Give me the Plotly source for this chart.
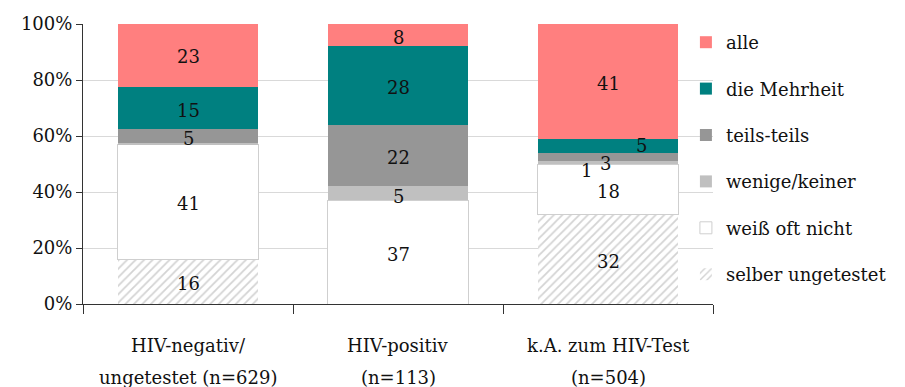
import plotly.graph_objects as go

# Categories (two-line labels) and answer shares in percent
cat_line1 = ["HIV-negativ/", "HIV-positiv", "k.A. zum HIV-Test"]
cat_line2 = ["ungetestet (n=629)", "(n=113)", "(n=504)"]
categories = [a + " " + b for a, b in zip(cat_line1, cat_line2)]

# Stacked from bottom to top
series_names = ["selber ungetestet", "weiß oft nicht", "wenige/keiner",
                "teils-teils", "die Mehrheit", "alle"]
selber_ungetestet = [16, 0, 32]
weiss_oft_nicht = [41, 37, 18]
wenige_keiner = [0.5, 5, 1]
teils_teils = [5, 22, 3]
die_mehrheit = [15, 28, 5]
alle = [23, 8, 41]
series_values = [selber_ungetestet, weiss_oft_nicht, wenige_keiner,
                 teils_teils, die_mehrheit, alle]

y_ticks = [0, 20, 40, 60, 80, 100]

FONT = "DejaVu Serif"
FS = 18

colors = ["#ffffff", "#ffffff", "#c0c0c0", "#969696", "#008080", "#ff7f7f"]

fig = go.Figure()
n = len(series_names)
for i, (name, vals) in enumerate(zip(series_names, series_values)):
    marker = dict(color=colors[i], line=dict(width=0))
    if name == "selber ungetestet":
        marker["pattern"] = dict(shape="/", fgcolor="#a8a8a8", bgcolor="#ffffff",
                                 size=6, solidity=0.3)
    if name == "weiß oft nicht":
        marker["line"] = dict(color="#cfcfcf", width=1)
    fig.add_trace(go.Bar(
        x=categories, y=vals, name=name, marker=marker,
        legendgroup=name, legendrank=n - i, hoverinfo="skip",
    ))

# Value labels centred in each segment (small ones nudged aside)
nudge = {
    ("die Mehrheit", 2): (33, 0),
    ("teils-teils", 2): (-3, -6),
    ("wenige/keiner", 2): (-22, -8),
    ("teils-teils", 0): (0, -2),
    ("wenige/keiner", 1): (0, -3),
}
annotations = []
for ci, cat in enumerate(categories):
    base = 0
    for si, (name, vals) in enumerate(zip(series_names, series_values)):
        v = vals[ci]
        if v >= 1:
            dx, dy = nudge.get((name, ci), (0, -2))
            annotations.append(dict(
                x=cat, y=base + v / 2, xref="x", yref="y", text=str(v),
                showarrow=False, xshift=dx, yshift=dy,
                font=dict(family=FONT, size=FS, color="#111111"),
            ))
        base += v

# Two-line category labels below the axis
for cat, l1, l2 in zip(categories, cat_line1, cat_line2):
    annotations.append(dict(x=cat, y=-0.147, xref="x", yref="paper", text=l1,
                            showarrow=False, yanchor="middle",
                            font=dict(family=FONT, size=FS, color="#111111")))
    annotations.append(dict(x=cat, y=-0.262, xref="x", yref="paper", text=l2,
                            showarrow=False, yanchor="middle",
                            font=dict(family=FONT, size=FS, color="#111111")))

fig.update_layout(
    barmode="stack",
    bargap=0.33,
    width=905, height=387,
    margin=dict(l=83, r=192, t=24, b=83),
    paper_bgcolor="white",
    plot_bgcolor="white",
    font=dict(family=FONT, size=FS, color="#111111"),
    showlegend=True,
    legend=dict(
        traceorder="grouped",
        tracegroupgap=20,
        x=0.957, xanchor="left", y=1.0, yanchor="top",
        font=dict(family=FONT, size=FS, color="#111111"),
        bgcolor="rgba(0,0,0,0)",
    ),
    annotations=annotations,
    xaxis=dict(
        type="category",
        showticklabels=False,
        tickson="boundaries",
        ticks="outside", ticklen=9, tickcolor="#333333", tickwidth=1,
        showline=True, linecolor="#333333", linewidth=1,
        showgrid=False, zeroline=False,
    ),
    yaxis=dict(
        range=[0, 100],
        tickvals=y_ticks,
        ticktext=[f"{t}%" for t in y_ticks],
        ticks="outside", ticklen=6, tickcolor="#333333",
        showline=True, linecolor="#333333", linewidth=1,
        showgrid=True, gridcolor="#d9d9d9", gridwidth=1,
        zeroline=False,
        tickfont=dict(family=FONT, size=FS, color="#111111"),
    ),
)

fig.write_html("out.html")
